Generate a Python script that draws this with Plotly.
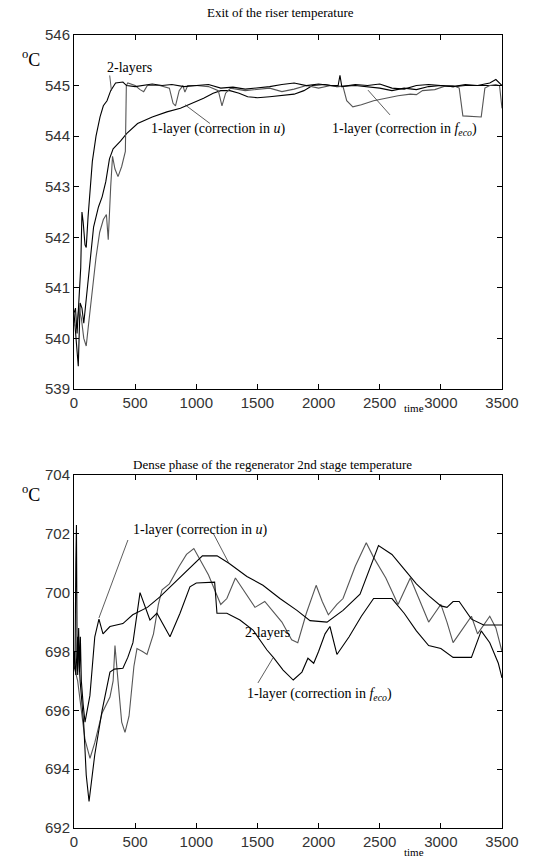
import plotly.graph_objects as go

# ---------------- Top panel: Exit of the riser temperature ----------------
top_2l_t = [0, 12, 25, 40, 55, 65, 75, 90, 100, 115, 130, 150, 180, 213, 240, 270, 300, 340, 400, 430,
            500, 560, 640, 720, 800, 900, 1000, 1100, 1200, 1300, 1400, 1500, 1600, 1700, 1800, 1900,
            2000, 2100, 2160, 2175, 2190, 2300, 2400, 2500, 2600, 2700, 2800, 2900, 3000, 3100, 3200,
            3300, 3400, 3450, 3500]
top_2l_v = [540.5, 540.6, 540.1, 540.9, 541.4, 542.5, 542.3, 541.85, 541.8, 542.4, 542.9, 543.5, 544.0,
            544.38, 544.6, 544.7, 544.9, 545.05, 545.07, 545.0, 544.98, 545.0, 545.03, 545.0, 545.02,
            544.98, 545.0, 545.02, 544.95, 544.97, 544.93, 544.95, 544.98, 545.02, 545.05, 545.0,
            545.03, 545.0, 545.0, 545.2, 544.98, 545.02, 545.0, 545.03, 544.95, 544.93, 545.0, 545.02,
            545.0, 544.98, 545.02, 545.0, 545.05, 545.12, 545.0]

top_u_t = [0, 20, 35, 50, 65, 80, 100, 130, 160, 200, 230, 260, 290, 320, 380, 430, 520, 640, 760, 870,
           973, 1060, 1138, 1200, 1275, 1350, 1420, 1500, 1600, 1700, 1800, 1880, 1950, 2050, 2150,
           2300, 2400, 2500, 2600, 2700, 2800, 2900, 3000, 3100, 3200, 3300, 3400, 3500]
top_u_v = [540.5, 539.9, 539.45, 540.7, 540.6, 540.3, 540.8, 541.5, 542.2, 542.6, 542.8, 543.1, 543.55,
           543.75, 543.9, 544.05, 544.25, 544.38, 544.48, 544.55, 544.65, 544.75, 544.85, 544.9, 544.9,
           544.85, 544.78, 544.76, 544.78, 544.8, 544.83, 544.9, 545.0, 545.02, 544.98, 545.0, 544.98,
           544.95, 544.9, 544.95, 544.92, 544.98, 545.0, 544.98, 545.0, 545.0, 545.0, 545.0]

top_f_t = [0, 20, 40, 60, 80, 100, 120, 150, 180, 210, 240, 265, 280, 300, 315, 335, 360, 390, 420, 428,
           440, 500, 540, 570, 600, 700, 780, 810, 830, 860, 890, 907, 930, 1000, 1100, 1180, 1210, 1240,
           1280, 1400, 1500, 1600, 1700, 1800, 1900, 2000, 2100, 2200, 2230, 2280, 2350, 2450, 2550,
           2650, 2750, 2800, 2850, 2950, 3050, 3100, 3150, 3180, 3330, 3360, 3400, 3450, 3480, 3500]
top_f_v = [540.3, 540.2, 540.6, 540.4, 540.0, 539.85, 540.3, 541.0, 541.6, 542.1, 542.35, 542.45, 541.95,
           543.0, 543.6, 543.35, 543.2, 543.4, 543.7, 545.0, 545.05, 545.0, 544.92, 544.88, 545.0, 545.0,
           544.95, 544.65, 544.6, 544.9, 545.0, 544.87, 545.0, 545.0, 544.98, 544.9, 544.6, 544.85,
           544.95, 544.9, 544.92, 544.95, 544.88, 544.93, 545.0, 544.95, 545.0, 544.98, 544.7, 544.58,
           544.62, 544.7, 544.75, 544.8, 544.83, 544.82, 544.9, 544.92, 545.0, 545.0, 544.95, 544.4,
           544.38, 544.95, 545.0, 545.02, 545.0, 544.55]

# ---------------- Bottom panel: Dense phase regenerator 2nd stage ----------------
bot_u_t = [0, 8, 15, 20, 25, 30, 38, 45, 52, 60, 75, 90, 130, 170, 204, 237, 294, 400, 480, 600, 700,
           810, 950, 1050, 1170, 1267, 1414, 1545, 1684, 1823, 1930, 2069, 2200, 2339, 2490, 2600,
           2700, 2800, 2900, 3000, 3050, 3100, 3150, 3250, 3350, 3500]
bot_u_v = [698.0, 697.4, 701.0, 702.3, 698.2, 697.2, 698.8, 697.3, 698.5, 697.0, 696.2, 695.6, 696.5,
           698.5, 699.1, 698.6, 698.85, 698.95, 699.25, 699.5, 699.85, 700.3, 700.85, 701.25, 701.25,
           701.0, 700.55, 700.25, 699.8, 699.4, 699.05, 699.0, 699.4, 699.95, 701.6, 701.3, 700.8,
           700.3, 699.9, 699.55, 699.5, 699.7, 699.7, 699.1, 698.9, 698.9]

bot_2l_t = [0, 30, 60, 90, 131, 170, 229, 294, 320, 335, 360, 390, 417, 450, 490, 515, 560, 597, 650,
            690, 720, 780, 860, 920, 980, 1100, 1200, 1250, 1320, 1400, 1480, 1560, 1620, 1700, 1780,
            1830, 1900, 1980, 2030, 2080, 2150, 2200, 2300, 2390, 2450, 2550, 2650, 2750, 2820, 2900,
            2950, 3000, 3050, 3100, 3150, 3250, 3300, 3350, 3400, 3450, 3500]
bot_2l_v = [697.5, 697.0, 696.0, 695.0, 694.37, 694.9, 695.9, 696.45, 697.0, 698.2, 697.0, 695.6, 695.25,
            695.8, 697.5, 698.1, 698.0, 697.9, 698.6, 699.6, 700.1, 700.3, 700.9, 701.3, 701.5, 700.6,
            699.6, 699.8, 700.5, 700.0, 699.5, 699.7, 699.4, 699.0, 698.4, 698.3, 699.3, 700.25, 699.7,
            699.25, 699.6, 699.8, 700.9, 701.7, 701.2, 700.5, 699.6, 700.5, 699.8, 699.0, 699.3, 699.6,
            699.0, 698.3, 698.6, 699.2, 698.6, 698.9, 699.2, 698.8, 698.0]

bot_f_t = [0, 15, 30, 50, 80, 100, 123, 170, 230, 294, 330, 400, 440, 482, 540, 621, 678, 785, 867, 948,
           1000, 1150, 1169, 1250, 1357, 1464, 1578, 1630, 1710, 1793, 1864, 1913, 1960, 2000, 2053,
           2093, 2150, 2250, 2350, 2450, 2600, 2700, 2800, 2900, 3000, 3100, 3250, 3330, 3400, 3470,
           3500]
bot_f_v = [698.0, 697.2, 698.5, 697.0, 695.5, 693.8, 692.9, 694.5, 696.0, 697.3, 697.4, 697.43, 697.8,
           698.3, 700.0, 699.07, 699.3, 698.5, 699.3, 700.2, 700.33, 700.36, 699.3, 699.3, 699.07,
           698.73, 698.05, 697.8, 697.37, 697.03, 697.3, 697.77, 697.6, 698.0, 698.6, 698.85, 697.9,
           698.5, 699.2, 699.8, 699.8, 699.3, 698.7, 698.2, 698.1, 697.8, 697.8, 698.7, 698.3, 697.6,
           697.1]

x_ticks = [0, 500, 1000, 1500, 2000, 2500, 3000, 3500]
top_y_ticks = [539, 540, 541, 542, 543, 544, 545, 546]
bot_y_ticks = [692, 694, 696, 698, 700, 702, 704]

top_title = "Exit of the riser temperature"
bot_title = "Dense phase of the regenerator 2nd stage temperature"

BLACK = "#000000"
GREY = "#555555"
SERIF = "Liberation Serif, Times New Roman, serif"
SANS = "Liberation Sans, Arial, sans-serif"

fig = go.Figure()

def add_line(t, v, color, ax):
    fig.add_trace(go.Scatter(x=t, y=v, mode="lines", line=dict(color=color, width=1.1),
                             xaxis="x" if ax == 1 else "x2", yaxis="y" if ax == 1 else "y2",
                             showlegend=False, hoverinfo="skip"))

add_line(top_u_t, top_u_v, BLACK, 1)
add_line(top_f_t, top_f_v, GREY, 1)
add_line(top_2l_t, top_2l_v, BLACK, 1)

add_line(bot_2l_t, bot_2l_v, GREY, 2)
add_line(bot_u_t, bot_u_v, BLACK, 2)
add_line(bot_f_t, bot_f_v, BLACK, 2)

W, H = 547, 862
xd = [74 / W, 502 / W]
y1d = [(H - 389) / H, (H - 35) / H]
y2d = [(H - 828) / H, (H - 475) / H]

axis_common = dict(showgrid=False, zeroline=False, showline=True, linecolor="black", linewidth=1,
                   mirror="ticks", ticks="inside", ticklen=5, tickcolor="black", automargin=False,
                   tickfont=dict(family=SANS, size=15, color="#333333"))

fig.update_layout(
    width=W, height=H,
    margin=dict(l=0, r=0, t=0, b=0, autoexpand=False),
    paper_bgcolor="white", plot_bgcolor="white",
    xaxis=dict(domain=xd, range=[0, 3500], tickvals=x_ticks, anchor="y", **axis_common),
    yaxis=dict(domain=y1d, range=[539, 546], tickvals=top_y_ticks, anchor="x", **axis_common),
    xaxis2=dict(domain=xd, range=[0, 3500], tickvals=x_ticks, anchor="y2", **axis_common),
    yaxis2=dict(domain=y2d, range=[692, 704], tickvals=bot_y_ticks, anchor="x2", **axis_common),
)

def ann(text, x, y, xref, yref, size=13, xanchor="center", yanchor="middle"):
    fig.add_annotation(text=text, x=x, y=y, xref=xref, yref=yref, showarrow=False,
                       font=dict(family=SERIF, size=size, color="black"),
                       xanchor=xanchor, yanchor=yanchor)

# titles
ann(top_title, 280 / W, 1 - 13 / H, "paper", "paper", size=13)
ann(bot_title, 272 / W, 1 - 465 / H, "paper", "paper", size=13)

# degree C labels
for yc in (58, 493):
    ann("<sup>o</sup>C", 31 / W, 1 - yc / H, "paper", "paper", size=18)

# time labels
ann("time", 2780, 1 - 408 / H, "x", "paper", size=11)
ann("time", 2780, 1 - 852 / H, "x2", "paper", size=11)

# curve labels - top
ann("2-layers", 450, 545.35, "x", "y", size=14)
ann("1-layer (correction in <i>u</i>)", 1177, 544.14, "x", "y", size=14)
ann("1-layer (correction in <i>f<sub>eco</sub></i>)", 2706, 544.14, "x", "y", size=14)
# curve labels - bottom
ann("1-layer (correction in <i>u</i>)", 1030, 702.13, "x2", "y2", size=14)
ann("2-layers", 1586, 698.63, "x2", "y2", size=14)
ann("1-layer (correction in <i>f<sub>eco</sub></i>)", 2011, 696.55, "x2", "y2", size=14)

# leader lines
leaders_top = [(292, 545.2, 306, 544.9), (908, 544.62, 1112, 544.25), (2404, 544.91, 2584, 544.42)]
leaders_bot = [(441, 701.79, 204, 699.14), (1137, 702.03, 1267, 701.0), (1504, 696.93, 1627, 697.78)]
for (x0, y0, x1, y1) in leaders_top:
    fig.add_shape(type="line", x0=x0, y0=y0, x1=x1, y1=y1, xref="x", yref="y",
                  line=dict(color="#333333", width=0.8))
for (x0, y0, x1, y1) in leaders_bot:
    fig.add_shape(type="line", x0=x0, y0=y0, x1=x1, y1=y1, xref="x2", yref="y2",
                  line=dict(color="#333333", width=0.8))

fig.write_html("out.html", config={"displayModeBar": False},
               post_script="document.body.style.margin='0';document.body.style.overflow='hidden';")
